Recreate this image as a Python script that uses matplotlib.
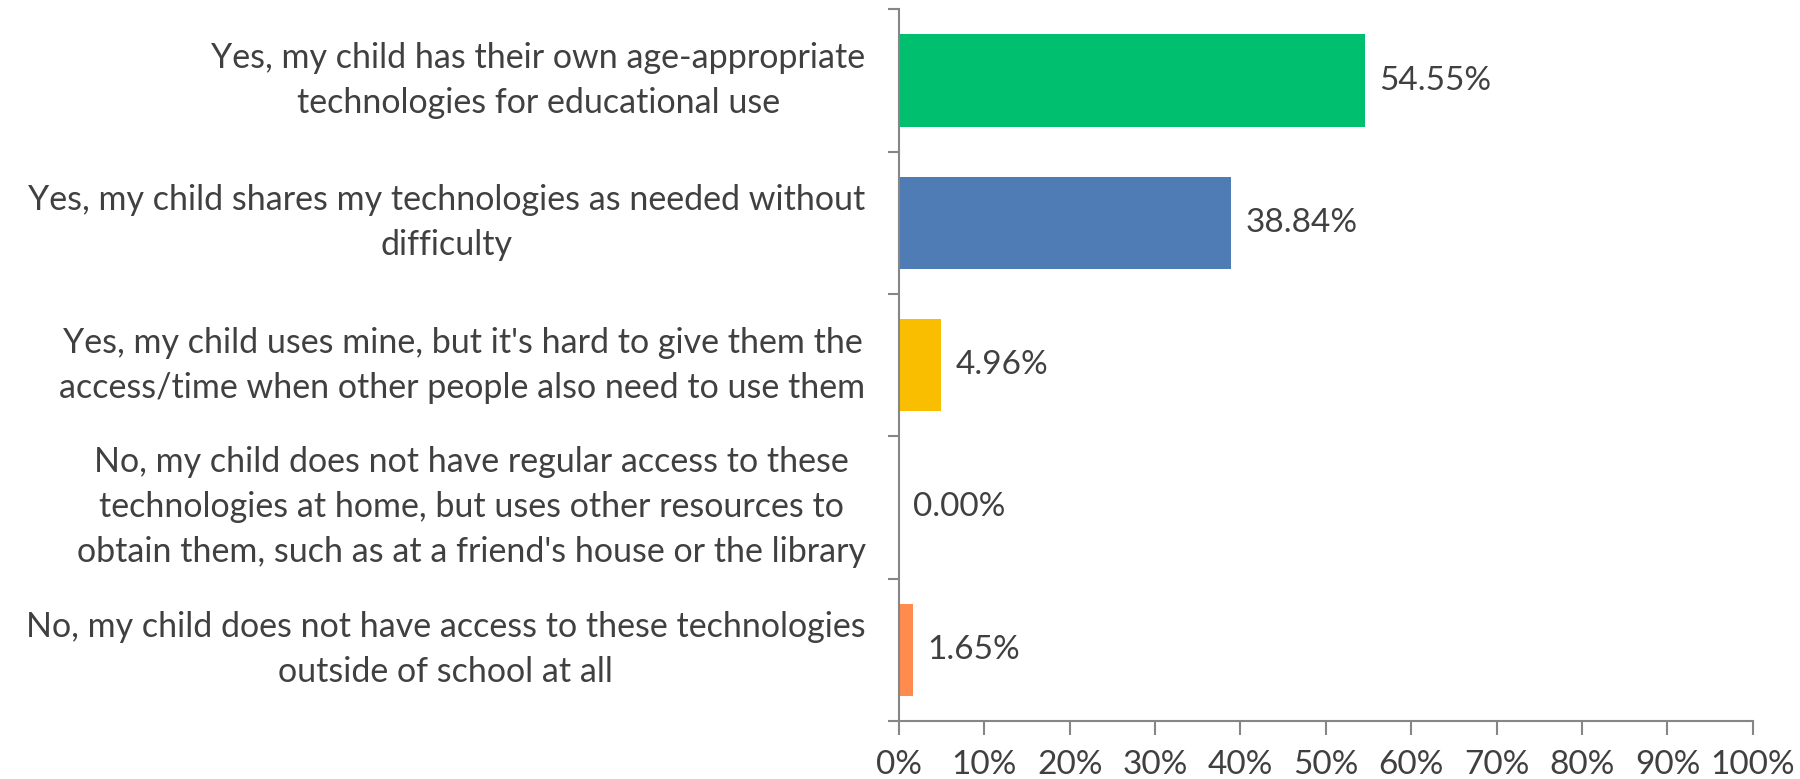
import numpy as np
import matplotlib
matplotlib.use('Agg')
import matplotlib.pyplot as plt

plt.rcParams['font.family'] = ['Lato', 'DejaVu Sans']

categories = [
    "Yes, my child has their own age-appropriate\ntechnologies for educational use",
    "Yes, my child shares my technologies as needed without\ndifficulty",
    "Yes, my child uses mine, but it's hard to give them the\naccess/time when other people also need to use them",
    "No, my child does not have regular access to these\ntechnologies at home, but uses other resources to\nobtain them, such as at a friend's house or the library",
    "No, my child does not have access to these technologies\noutside of school at all",
]
values = [54.55, 38.84, 4.96, 0.00, 1.65]
colors = ['#00BF6F', '#4F7CB5', '#F9BE00', '#A5A5A5', '#FF8B4F']

fig = plt.figure(figsize=(18, 7.79), dpi=100)
ax = fig.add_axes([0.4994, 0.0745, 0.4744, 0.9135])

y = np.arange(len(categories))
ax.barh(y, values, height=0.65, color=colors)
ax.set_ylim(len(categories) - 0.5, -0.5)
ax.set_xlim(0, 100)

for yi, v in zip(y, values):
    ax.text(v + 1.7, yi, f"{v:.2f}%", va='center', ha='left', fontsize=24, color='#404040')

gray = '#868686'
for s in ['top', 'right']:
    ax.spines[s].set_visible(False)
for s in ['left', 'bottom']:
    ax.spines[s].set_color(gray)
    ax.spines[s].set_linewidth(1.5)

ax.set_xticks(np.arange(0, 101, 10))
ax.set_xticklabels([f"{t}%" for t in range(0, 101, 10)], fontsize=24, color='#404040')
ax.tick_params(axis='x', length=10, width=1.5, color=gray, pad=11)

# category boundary ticks on y, labels at the centres
ax.set_yticks(np.arange(-0.5, len(categories), 1.0))
ax.set_yticklabels([])
ax.tick_params(axis='y', length=8, width=1.5, color=gray)
ax.set_yticks(y, minor=True)
ax.set_yticklabels(categories, minor=True, fontsize=24.5, color='#404040',
                   multialignment='center', linespacing=1.5, va='center')
ax.tick_params(axis='y', which='minor', length=0, pad=24)

fig.savefig('out.png', dpi=100)
